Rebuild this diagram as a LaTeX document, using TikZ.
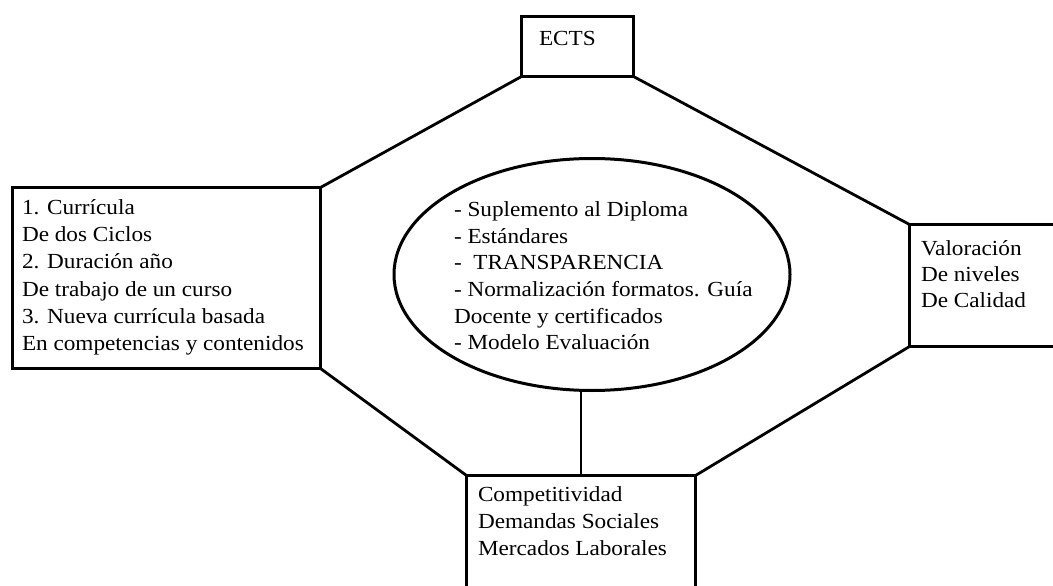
\documentclass[tikz,border=0pt]{standalone}
\usepackage{fontspec}
\setmainfont{Liberation Serif}[FakeStretch=1.08]
\usetikzlibrary{shapes.geometric}
\newcommand\txtlines[2]{{\fontsize{21.5}{#1}\selectfont\begin{tabular}[t]{@{}l@{}}#2\end{tabular}}}
\tikzset{
  frame/.style={draw=black, line width=3pt, rectangle, inner sep=0pt, outer sep=0pt, anchor=north west},
  oval/.style={draw=black, line width=3pt, ellipse, inner sep=0pt, outer sep=0pt},
  link/.style={draw=black, line width=2.8pt},
  label/.style={anchor=base west, inner sep=0pt, outer sep=0pt}
}
\begin{document}
\begin{tikzpicture}[x=1pt,y=-1pt]
\clip (0,0) rectangle (1053,586);
\fill[white] (0,0) rectangle (1053,586);
% boxes
\node[frame, minimum width=112pt, minimum height=60pt] (ects) at (521.5,16.5) {};
\node[frame, minimum width=308pt, minimum height=181pt] (left) at (12.5,187.5) {};
\node[frame, minimum width=200pt, minimum height=122pt] (right) at (909.5,224.5) {};
\node[frame, minimum width=229pt, minimum height=200pt] (bot) at (466.5,475.5) {};
\node[oval, minimum width=396pt, minimum height=232pt] (ell) at (592,274.5) {};
% connectors
\draw[link] (ects.south west) -- (left.north east);
\draw[link] (ects.south east) -- (right.north west);
\draw[link] (left.south east) -- (bot.north west);
\draw[link] (bot.north east) -- (right.south west);
\coordinate (v) at (581,475.5);
\draw[link] (ell.south -| v) -- (v);
% texts
\node[label] (tects) at (539,46) {\txtlines{26.5pt}{ECTS}};
\node[label] (tleft) at (22,214) {\txtlines{27.4pt}{1. Currícula\\De dos Ciclos\\2. Duración año\\De trabajo de un curso\\3. Nueva currícula basada\\En competencias y contenidos}};
\node[label] (tell) at (454,216.7) {\txtlines{26.6pt}{- Suplemento al Diploma\\- Estándares\\-~ TRANSPARENCIA\\- Normalización formatos. Guía\\Docente y certificados\\- Modelo Evaluación}};
\node[label] (tright) at (921,255) {\txtlines{26.2pt}{Valoración\\De niveles\\De Calidad}};
\node[label] (tbot) at (478,501.7) {\txtlines{26.7pt}{Competitividad\\Demandas Sociales\\Mercados Laborales}};
\end{tikzpicture}
\end{document}
